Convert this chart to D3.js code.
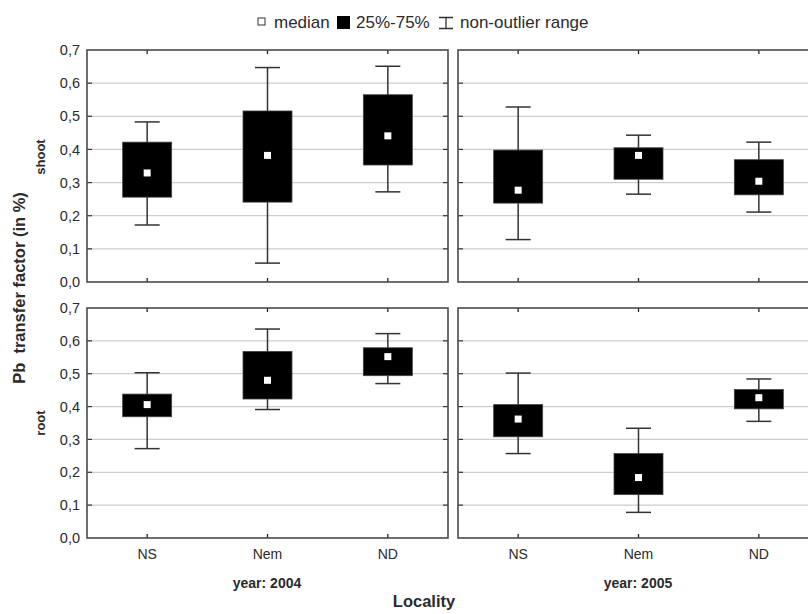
<!DOCTYPE html>
<html>
<head>
<meta charset="utf-8">
<script src="https://cdn.jsdelivr.net/npm/d3@7/dist/d3.min.js"></script>
<style>
  body { margin: 0; background: #fff; }
  text { font-family: "Liberation Sans", Arial, sans-serif; fill: #2b2b2b; }
</style>
</head>
<body>
<svg id="chart" width="808" height="614"></svg>
<script>
// Categories and panel factors
const localities = ["NS", "Nem", "ND"];
const years = ["2004", "2005"];
const organs = ["shoot", "root"];
const yTicks = [0, 0.1, 0.2, 0.3, 0.4, 0.5, 0.6, 0.7];

// Per locality: [whisker low, 25%, median, 75%, whisker high]
const shoot2004 = [[0.172, 0.256, 0.329, 0.422, 0.483], [0.057, 0.241, 0.382, 0.516, 0.647], [0.272, 0.353, 0.441, 0.565, 0.651]];
const shoot2005 = [[0.128, 0.238, 0.277, 0.398, 0.528], [0.265, 0.310, 0.382, 0.405, 0.443], [0.211, 0.263, 0.304, 0.369, 0.422]];
const root2004  = [[0.272, 0.369, 0.406, 0.438, 0.503], [0.391, 0.423, 0.480, 0.568, 0.636], [0.470, 0.494, 0.552, 0.579, 0.622]];
const root2005  = [[0.257, 0.308, 0.362, 0.406, 0.502], [0.078, 0.132, 0.184, 0.257, 0.334], [0.355, 0.393, 0.427, 0.452, 0.484]];

const panelData = {
  shoot: { "2004": shoot2004, "2005": shoot2005 },
  root:  { "2004": root2004,  "2005": root2005 }
};

const svg = d3.select("#chart");

// Panel geometry
const colX = [87, 458];
const panelW = 361;
const rowY = [50, 308];
const panelH = [232, 230];
const boxW = 49, capW = 25, medSize = 7;

const fmt = d => d3.format(".1f")(d).replace(".", ",");

organs.forEach((organ, r) => {
  const y = d3.scaleLinear().domain([0, 0.7]).range([rowY[r] + panelH[r], rowY[r]]);

  // y tick labels on the left column
  const yAxis = svg.append("g")
    .attr("transform", `translate(${colX[0]},0)`)
    .call(d3.axisLeft(y).tickValues(yTicks).tickFormat(fmt).tickSize(0).tickPadding(7));
  yAxis.select(".domain").remove();
  yAxis.selectAll("text").style("font-size", "14.5px").style("font-family", "'Liberation Sans', Arial, sans-serif").attr("fill", "#333");

  // row label
  svg.append("text")
    .attr("transform", `translate(45,${r === 0 ? 157 : 423}) rotate(-90)`)
    .attr("text-anchor", "middle")
    .style("font-size", "13px").style("font-weight", "bold")
    .text(organ);

  years.forEach((year, c) => {
    const x = d3.scaleBand().domain(localities).range([colX[c], colX[c] + panelW]);
    const g = svg.append("g");
    const x0 = colX[c], x1 = colX[c] + panelW;
    const inner = yTicks.filter(t => t > 0 && t < 0.7);

    // horizontal grid
    g.selectAll("line.grid").data(inner).join("line")
      .attr("x1", x0).attr("x2", x1)
      .attr("y1", d => y(d)).attr("y2", d => y(d))
      .attr("stroke", "#cdcdcd").attr("stroke-width", 1.2);

    // inward ticks on the left and right edges
    [[x0, 5], [x1, -5]].forEach(([xe, len]) => {
      g.selectAll(null).data(inner).join("line")
        .attr("x1", xe).attr("x2", xe + len)
        .attr("y1", d => y(d)).attr("y2", d => y(d))
        .attr("stroke", "#333").attr("stroke-width", 1.2);
    });

    // inward ticks at categories on top and bottom
    [[y.range()[1], 4], [y.range()[0], -4]].forEach(([ye, len]) => {
      g.selectAll(null).data(localities).join("line")
        .attr("x1", d => x(d) + x.bandwidth() / 2).attr("x2", d => x(d) + x.bandwidth() / 2)
        .attr("y1", ye).attr("y2", ye + len)
        .attr("stroke", "#222").attr("stroke-width", 1.3);
    });

    const stats = panelData[organ][year].map((s, i) => ({ loc: localities[i], s }));
    const cx = d => x(d.loc) + x.bandwidth() / 2;

    // whiskers
    const w = g.selectAll("g.box").data(stats).join("g");
    w.append("line")
      .attr("x1", cx).attr("x2", cx)
      .attr("y1", d => y(d.s[0])).attr("y2", d => y(d.s[4]))
      .attr("stroke", "#333").attr("stroke-width", 1.5);
    [0, 4].forEach(k => {
      w.append("line")
        .attr("x1", d => cx(d) - capW / 2).attr("x2", d => cx(d) + capW / 2)
        .attr("y1", d => y(d.s[k])).attr("y2", d => y(d.s[k]))
        .attr("stroke", "#333").attr("stroke-width", 1.5);
    });
    // 25%-75% box
    w.append("rect")
      .attr("x", d => cx(d) - boxW / 2).attr("width", boxW)
      .attr("y", d => y(d.s[3])).attr("height", d => y(d.s[1]) - y(d.s[3]))
      .attr("fill", "#000").attr("stroke", "#444").attr("stroke-width", 0.8);
    // median
    w.append("rect")
      .attr("x", d => cx(d) - medSize / 2).attr("width", medSize)
      .attr("y", d => y(d.s[2]) - medSize / 2).attr("height", medSize)
      .attr("fill", "#fff");

    // panel frame
    g.append("rect")
      .attr("x", x0).attr("y", y.range()[1])
      .attr("width", panelW).attr("height", y.range()[0] - y.range()[1])
      .attr("fill", "none").attr("stroke", "#4a4a4a").attr("stroke-width", 1.6);

    // category labels and year under the bottom row
    if (r === 1) {
      const xa = svg.append("g")
        .attr("transform", `translate(0,${y.range()[0]})`)
        .call(d3.axisBottom(x).tickSize(0).tickPadding(11));
      xa.select(".domain").remove();
      xa.selectAll("text").style("font-size", "14px").style("font-family", "'Liberation Sans', Arial, sans-serif").attr("fill", "#333");
      svg.append("text")
        .attr("x", x0 + 180).attr("y", 588)
        .attr("text-anchor", "middle")
        .style("font-size", "14px").style("font-weight", "bold")
        .text("year: " + year);
    }
  });
});

// overall axis titles
svg.append("text")
  .attr("transform", "translate(25,288) rotate(-90)")
  .attr("text-anchor", "middle")
  .style("font-size", "16.5px").style("font-weight", "bold")
  .attr("xml:space", "preserve")
  .text("Pb  transfer factor (in %)");

svg.append("text")
  .attr("x", 424).attr("y", 607)
  .attr("text-anchor", "middle")
  .style("font-size", "16.5px").style("font-weight", "bold")
  .text("Locality");

// legend
const lg = svg.append("g").style("font-size", "17px");
lg.append("rect").attr("x", 258).attr("y", 18).attr("width", 7).attr("height", 7)
  .attr("fill", "#fff").attr("stroke", "#333").attr("stroke-width", 1);
lg.append("text").attr("x", 274).attr("y", 28).attr("fill", "#333").text("median");
lg.append("rect").attr("x", 337).attr("y", 16).attr("width", 13).attr("height", 13).attr("fill", "#000");
lg.append("text").attr("x", 356).attr("y", 28).attr("fill", "#333").text("25%-75%");
lg.append("path").attr("d", "M439,17.5H453M446,17.5V28.5M439,28.5H453")
  .attr("stroke", "#333").attr("stroke-width", 1.3).attr("fill", "none");
lg.append("text").attr("x", 460).attr("y", 28).attr("fill", "#333").text("non-outlier range");
</script>
</body>
</html>
